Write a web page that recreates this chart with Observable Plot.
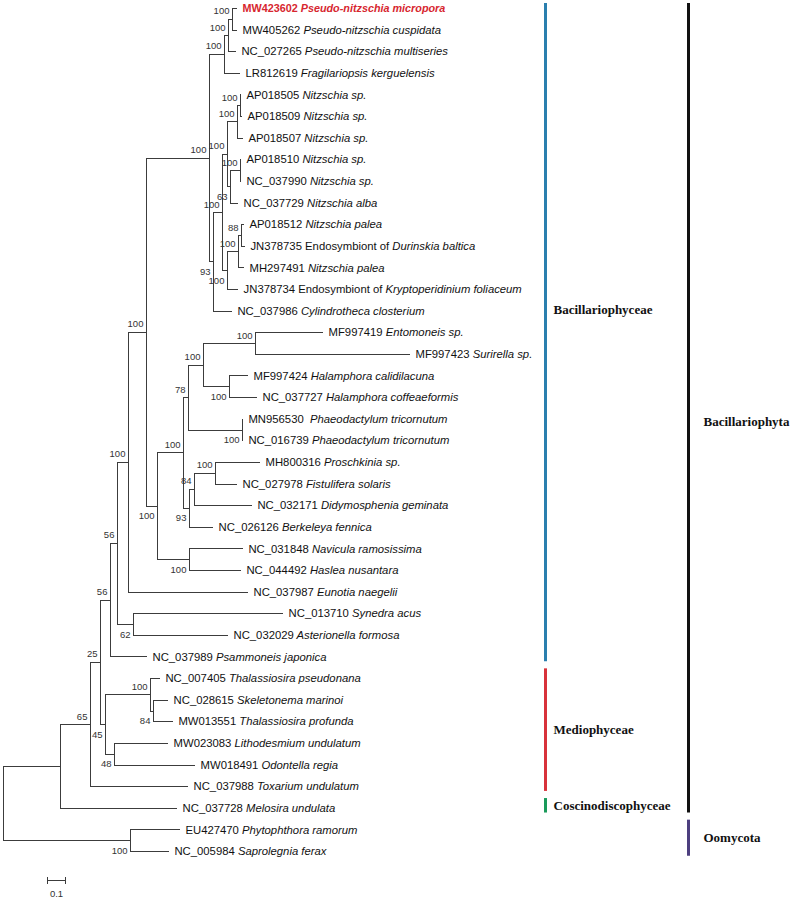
<!DOCTYPE html>
<html><head><meta charset="utf-8">
<script src="https://cdn.jsdelivr.net/npm/d3@7"></script>
<script src="https://cdn.jsdelivr.net/npm/@observablehq/plot@0.6"></script>
<style>
html,body{margin:0;padding:0;background:#fff;}
#chart svg{display:block;}
</style></head><body><div id="chart"></div>
<script>
// ---- leaves, top to bottom ----
const accessions = ["MW423602","MW405262","NC_027265","LR812619","AP018505","AP018509","AP018507","AP018510","NC_037990","NC_037729",
  "AP018512","JN378735","MH297491","JN378734","NC_037986","MF997419","MF997423","MF997424","NC_037727","MN956530",
  "NC_016739","MH800316","NC_027978","NC_032171","NC_026126","NC_031848","NC_044492","NC_037987","NC_013710","NC_032029",
  "NC_037989","NC_007405","NC_028615","MW013551","MW023083","MW018491","NC_037988","NC_037728","EU427470","NC_005984"];
const plainNames = ["","","","","","","","","","",
  "","Endosymbiont of","","Endosymbiont of","","","","","","",
  "","","","","","","","","","",
  "","","","","","","","","",""];
const italicNames = ["Pseudo-nitzschia micropora","Pseudo-nitzschia cuspidata","Pseudo-nitzschia multiseries","Fragilariopsis kerguelensis","Nitzschia sp.","Nitzschia sp.","Nitzschia sp.","Nitzschia sp.","Nitzschia sp.","Nitzschia alba",
  "Nitzschia palea","Durinskia baltica","Nitzschia palea","Kryptoperidinium foliaceum","Cylindrotheca closterium","Entomoneis sp.","Surirella sp.","Halamphora calidilacuna","Halamphora coffeaeformis","Phaeodactylum tricornutum",
  "Phaeodactylum tricornutum","Proschkinia sp.","Fistulifera solaris","Didymosphenia geminata","Berkeleya fennica","Navicula ramosissima","Haslea nusantara","Eunotia naegelii","Synedra acus","Asterionella formosa",
  "Psammoneis japonica","Thalassiosira pseudonana","Skeletonema marinoi","Thalassiosira profunda","Lithodesmium undulatum","Odontella regia","Toxarium undulatum","Melosira undulata","Phytophthora ramorum","Saprolegnia ferax"];
const leafParent = ["p1","p1","p2","p3","n1","n1","n2","n3","n3","n4",
  "n6","n6","n7","n8","n10","Q","Q","R","R","P",
  "P","T","T","S","M","K","K","C","n62","n62",
  "A","Th100","Th84","Th84","n48","n48","n65","Nmel","Oom","Oom"];
// distance from root (substitutions per site)
const leafDepth = [1.300,1.300,1.294,1.317,1.322,1.328,1.333,1.322,1.322,1.306,
  1.339,1.344,1.339,1.306,1.272,1.778,2.261,1.361,1.411,1.333,
  1.333,1.428,1.300,1.383,1.167,1.333,1.322,1.361,1.556,1.250,
  0.800,0.872,0.917,0.944,0.917,1.067,1.028,0.967,0.983,0.922];
const highlightedAccession = "MW423602";

// ---- internal nodes ----
const nodeIds     = ["root","Nmel","Oom","n65","n25","A","B","C","D","E","p3","p2","p1","n10","n9","n5","n2","n1","n4","n3","n8","n7","n6",
  "F","J","L","N","Q","R","P","M","S","T","K","n62","n45","Th100","Th84","n48"];
const nodeParent  = [null,"root","root","Nmel","n65","n25","A","B","C","D","E","p3","p2","E","n10","n9","n5","n2","n5","n4","n9","n8","n7",
  "D","F","J","L","N","N","L","J","M","S","F","B","n25","n45","Th100","n45"];
const nodeDepth   = [0,0.317,0.706,0.483,0.539,0.594,0.633,0.694,0.794,1.144,1.228,1.250,1.272,1.167,1.217,1.244,1.300,1.317,1.261,1.317,1.244,1.306,1.322,
  0.856,1.000,1.028,1.111,1.400,1.256,1.328,1.033,1.061,1.178,1.033,0.722,0.567,0.817,0.833,0.617];
const nodeSupport = ["","","100","65","25","56","56","100","100","100","100","100","100","93","100","100","100","100","63","100","100","100","88",
  "100","100","78","100","100","100","100","93","84","100","100","62","45","100","84","48"];

// ---- clade annotations ----
const classNames = ["Bacillariophyceae","Mediophyceae","Coscinodiscophyceae"];
const classFirst = [0,31,37];
const classLast  = [30,36,37];
const phylumNames = ["Bacillariophyta","Oomycota"];
const phylumFirst = [0,38];
const phylumLast  = [37,39];
const scaleBarLength = 0.1;

// ---- styles / layout ----
const classColors = ["#2a7fae","#d8323b","#1a9a5a"];
const phylumColors = ["#111111","#4d3f7f"];
const treeColor = "#3c3c3c";
const sans = "'Liberation Sans', Arial, sans-serif";
const serif = "'Liberation Serif', 'Times New Roman', serif";

// build tree
const nodes = new Map();
nodeIds.forEach((id,i)=>nodes.set(id,{id,parent:nodeParent[i],depth:nodeDepth[i],support:nodeSupport[i],children:[],leaf:false}));
accessions.forEach((a,i)=>nodes.set("leaf"+i,{id:"leaf"+i,parent:leafParent[i],depth:leafDepth[i],children:[],leaf:true,y:i,index:i}));
for (const n of nodes.values()) if (n.parent) nodes.get(n.parent).children.push(n);
function setY(n){ if (n.leaf) return n.y; const ys = n.children.map(setY); n.y0=Math.min(...ys); n.y1=Math.max(...ys); n.y=(n.y0+n.y1)/2; return n.y; }
setY(nodes.get("root"));
const all = [...nodes.values()];
const horizontals = all.filter(n=>n.parent).map(n=>({x1:nodes.get(n.parent).depth,x2:n.depth,y:n.y}));
const verticals = all.filter(n=>!n.leaf).map(n=>({x:n.depth,y1:n.y0,y2:n.y1}));
const supportNodes = all.filter(n=>!n.leaf && n.support);
supportNodes.forEach(n=>{ const p=nodes.get(n.parent); n.upper = n.y <= p.y; });
const leaves = accessions.map((a,i)=>nodes.get("leaf"+i));

const X0 = 3, PXU = 180; // pixel origin and px per unit
const px = v => (v - X0) / PXU; // layout pixel -> x units
const row = v => (v - 8) / ((851 - 8) / 39); // layout pixel -> row units

const classes = classNames.map((name,i)=>({name,first:classFirst[i],last:classLast[i],color:classColors[i]}));
const phyla = phylumNames.map((name,i)=>({name,first:phylumFirst[i],last:phylumLast[i],color:phylumColors[i]}));
const barTop = d => Math.max(d.first - 0.45, row(3));
const barBot = d => d.last + 0.22;
const classLabelRow = [row(309), null, null];
const phylumLabelRow = [row(421), null];

const sbStart = px(47);
const sbRow = row(880);

const marks = [
  Plot.ruleY(horizontals,{x1:"x1",x2:"x2",y:"y",stroke:treeColor,strokeWidth:1,shapeRendering:"crispEdges"}),
  Plot.ruleX(verticals,{x:"x",y1:"y1",y2:"y2",stroke:treeColor,strokeWidth:1,shapeRendering:"crispEdges"}),
  Plot.text(supportNodes.filter(n=>n.upper),{x:"depth",y:"y",text:"support",textAnchor:"end",dx:-3,dy:-8,fontSize:9.5,fill:"#333",fontFamily:sans}),
  Plot.text(supportNodes.filter(n=>!n.upper),{x:"depth",y:"y",text:"support",textAnchor:"end",dx:-3,dy:10,fontSize:9.5,fill:"#333",fontFamily:sans}),
  Plot.text(leaves,{x:"depth",y:"y",text:d=>accessions[d.index],textAnchor:"start",dx:5,fontSize:11.3,fill:"#111",fontFamily:sans}),
  ...classes.map((c,i)=>Plot.ruleX([c],{x:()=>px(545),y1:barTop,y2:barBot,stroke:c.color,strokeWidth:3})),
  ...classes.map((c,i)=>Plot.text([c],{x:()=>px(553),y:d=>classLabelRow[i] ?? (barTop(d)+barBot(d))/2,text:"name",textAnchor:"start",fontSize:13,fontWeight:"bold",fontFamily:serif,fill:"#111"})),
  ...phyla.map((c,i)=>Plot.ruleX([c],{x:()=>px(688),y1:barTop,y2:barBot,stroke:c.color,strokeWidth:3})),
  ...phyla.map((c,i)=>Plot.text([c],{x:()=>px(703),y:d=>phylumLabelRow[i] ?? (barTop(d)+barBot(d))/2,text:"name",textAnchor:"start",fontSize:13,fontWeight:"bold",fontFamily:serif,fill:"#111"})),
  Plot.ruleY([scaleBarLength],{x1:()=>sbStart,x2:d=>sbStart+d,y:()=>sbRow,stroke:treeColor,strokeWidth:1,shapeRendering:"crispEdges"}),
  Plot.ruleX([0,scaleBarLength],{x:d=>sbStart+d,y1:()=>sbRow-0.15,y2:()=>sbRow+0.2,stroke:treeColor,strokeWidth:1,shapeRendering:"crispEdges"}),
  Plot.text([scaleBarLength],{x:d=>sbStart+d/2,y:()=>row(893),text:d=>String(d),fontSize:9.5,fill:"#333",fontFamily:sans})
];

const svg = Plot.plot({
  width:790, height:898,
  marginTop:0, marginBottom:0, marginLeft:0, marginRight:0,
  x:{domain:[0,1],range:[X0,X0+PXU],axis:null},
  y:{domain:[0,39],range:[8,851],axis:null},
  style:{background:"#fff",fontFamily:sans},
  marks
});

// rich leaf labels: regular accession + (plain) + italic species
const ns = "http://www.w3.org/2000/svg";
svg.querySelectorAll("text").forEach(t=>{
  const i = accessions.indexOf(t.textContent);
  if (i < 0) return;
  t.textContent = "";
  const a = document.createElementNS(ns,"tspan"); a.textContent = accessions[i]; t.appendChild(a);
  if (plainNames[i]) { const p = document.createElementNS(ns,"tspan"); p.textContent = " " + plainNames[i]; t.appendChild(p); }
  const s = document.createElementNS(ns,"tspan"); s.setAttribute("font-style","italic");
  s.textContent = (accessions[i]==="MN956530" ? "\u00a0 " : " ") + italicNames[i]; t.appendChild(s);
  if (accessions[i] === highlightedAccession) { t.setAttribute("fill","#d7262f"); t.setAttribute("font-weight","bold"); t.setAttribute("font-size","10.8"); }
});
document.getElementById("chart").appendChild(svg);
</script></body></html>
